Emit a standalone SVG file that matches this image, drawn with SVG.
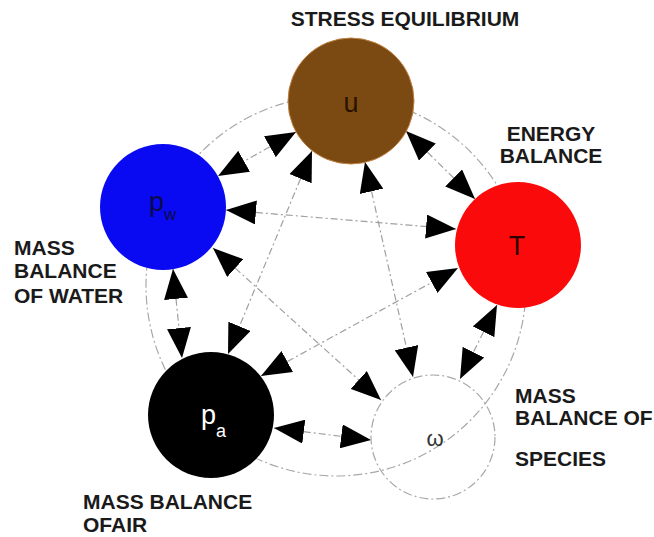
<svg xmlns="http://www.w3.org/2000/svg" width="654" height="537" viewBox="0 0 654 537">
<style>
.lbl{font-family:"Liberation Sans",Arial,sans-serif;font-weight:bold;font-size:21px;fill:#1a1a1a}
.nl{font-family:"Liberation Sans",Arial,sans-serif;font-size:27px}
.dash{fill:none;stroke:#a8a8a8;stroke-width:1.2;stroke-dasharray:9 3 2 3}
.edge{stroke:#a0a0a0;stroke-width:1.2;stroke-dasharray:7 3 2 3;marker-start:url(#ah);marker-end:url(#ah)}
</style>
<defs>
<marker id="ah" viewBox="0 -12 30 24" refX="30" refY="0" markerWidth="30" markerHeight="24" markerUnits="userSpaceOnUse" orient="auto-start-reverse">
<path d="M0,-12 L30,0 L0,12 Z" fill="#000"/>
</marker>
</defs>
<rect width="654" height="537" fill="#fff"/>
<g id="ring">
<circle class="dash" cx="336" cy="286" r="190"/>
</g>
<g id="connectors">
<line class="edge" x1="296" y1="132" x2="218" y2="176"/>
<line class="edge" x1="406" y1="131" x2="475" y2="199"/>
<line class="edge" x1="312" y1="151" x2="228" y2="354"/>
<line class="edge" x1="365" y1="162" x2="413" y2="377"/>
<line class="edge" x1="226" y1="210" x2="456" y2="229"/>
<line class="edge" x1="213" y1="248" x2="381" y2="400"/>
<line class="edge" x1="173" y1="269" x2="182" y2="358"/>
<line class="edge" x1="261" y1="376" x2="458" y2="268"/>
<line class="edge" x1="274" y1="428" x2="371" y2="440"/>
<line class="edge" x1="497" y1="305" x2="460" y2="379"/>
</g>
<g id="node-u">
<circle cx="351" cy="101" r="63" fill="#7b4a12" stroke="#c08040" stroke-width="1"/>
<text class="nl" x="351" y="112" text-anchor="middle" fill="#2a1200">u</text>
</g>
<g id="node-pw">
<circle cx="163" cy="207" r="63" fill="#0a0af2"/>
<text class="nl" x="149" y="211" fill="#0a0a48">p<tspan font-size="17" dy="9">w</tspan></text>
</g>
<g id="node-T">
<circle cx="518" cy="245" r="63" fill="#fa0a0a"/>
<text class="nl" x="517" y="255" text-anchor="middle" fill="#300000">T</text>
</g>
<g id="node-pa">
<circle cx="211" cy="415" r="63" fill="#000"/>
<text class="nl" x="201" y="424" fill="#fff">p<tspan font-size="18" dy="13">a</tspan></text>
</g>
<g id="node-omega">
<circle class="dash" cx="433" cy="437" r="62" fill="#fff"/>
<text x="435" y="446" text-anchor="middle" font-family="Liberation Sans,Arial,sans-serif" font-size="22" fill="#333">ω</text>
</g>
<g id="labels">
<text class="lbl" x="405" y="26" text-anchor="middle">STRESS EQUILIBRIUM</text>
<text class="lbl" x="551" y="141" text-anchor="middle">ENERGY</text>
<text class="lbl" x="551" y="163" text-anchor="middle">BALANCE</text>
<text class="lbl" x="14" y="255">MASS</text>
<text class="lbl" x="14" y="278">BALANCE</text>
<text class="lbl" x="14" y="303">OF WATER</text>
<text class="lbl" x="83" y="509">MASS BALANCE</text>
<text class="lbl" x="83" y="532">OFAIR</text>
<text class="lbl" x="515" y="403">MASS</text>
<text class="lbl" x="515" y="425">BALANCE OF</text>
<text class="lbl" x="515" y="466">SPECIES</text>
</g>
</svg>
